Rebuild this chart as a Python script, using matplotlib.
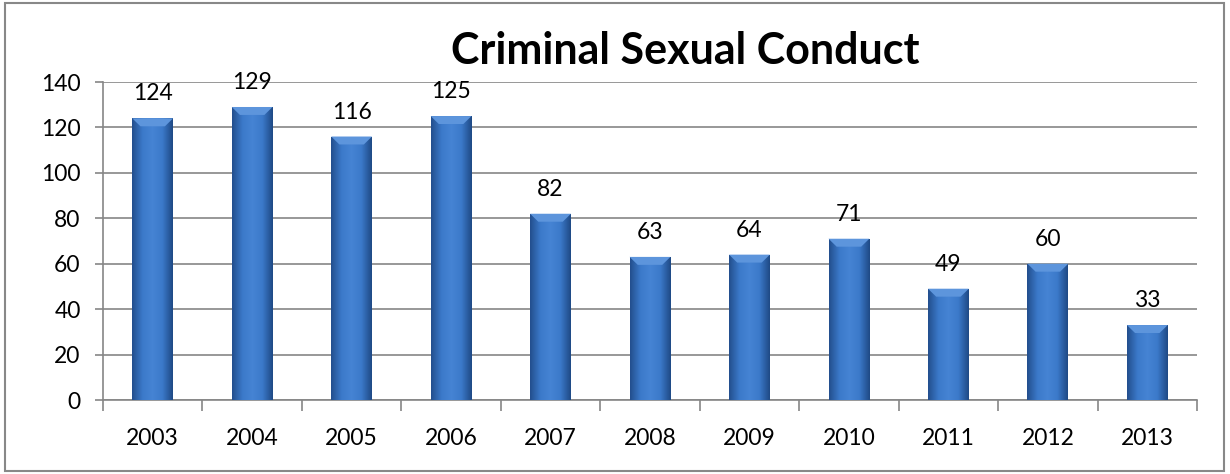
import matplotlib.pyplot as plt
import numpy as np
from matplotlib.colors import LinearSegmentedColormap
from matplotlib.patches import Rectangle, Polygon

years = ['2003', '2004', '2005', '2006', '2007', '2008',
         '2009', '2010', '2011', '2012', '2013']
counts = [124, 129, 116, 125, 82, 63, 64, 71, 49, 60, 33]
y_ticks = [0, 20, 40, 60, 80, 100, 120, 140]

plt.rcParams['font.family'] = ['Lato', 'DejaVu Sans']

fig = plt.figure(figsize=(12.3, 4.74), dpi=100)
ax = fig.add_axes([0.0837, 0.1561, 0.8895, 0.6709])

x = np.arange(len(years))
bars = ax.bar(x, counts, width=0.41, color='#3a74c4', zorder=2)

# horizontal shading so the bars look rounded, like the Excel original
shade = LinearSegmentedColormap.from_list(
    'shade', ['#234f8e', '#3b79c9', '#4684d4', '#3b79c9', '#1f4a86'])
grad = np.linspace(0, 1, 64).reshape(1, -1)
for b in bars:
    x0, w, h = b.get_x(), b.get_width(), b.get_height()
    im = ax.imshow(grad, cmap=shade, aspect='auto', zorder=3,
                   extent=(x0, x0 + w, 0, h))
    im.set_clip_path(b)
    # lighter bevel on top
    bev = Polygon([(x0, h), (x0 + w, h), (x0 + w * 0.8, h - 3.5), (x0 + w * 0.2, h - 3.5)],
                  closed=True, color='#5d95dc', zorder=4, lw=0)
    ax.add_patch(bev)
    ax.annotate(str(int(h)), (x0 + w / 2, h), xytext=(0, 10),
                textcoords='offset points', ha='center', va='bottom',
                fontsize=16.5)

ax.set_xlim(-0.5, len(years) - 0.5)
ax.set_ylim(0, 140)
ax.set_yticks(y_ticks)
ax.set_yticklabels([str(v) for v in y_ticks], fontsize=16.5)
ax.set_xticks(x)
ax.set_xticklabels(years, fontsize=16.5)
ax.tick_params(axis='x', length=0, pad=20)
ax.set_xticks(np.arange(len(years) + 1) - 0.5, minor=True)
ax.tick_params(axis='x', which='minor', length=8, width=1.2, color='#868686')
ax.tick_params(axis='y', length=6, width=1.2, color='#868686', pad=10)
ax.grid(axis='y', color='#868686', lw=1.2, zorder=0)
for s in ['top', 'right']:
    ax.spines[s].set_visible(False)
for s in ['left', 'bottom']:
    ax.spines[s].set_color('#868686')
    ax.spines[s].set_linewidth(1.2)

fig.text(0.557, 0.893, 'Criminal Sexual Conduct', ha='center', va='center',
         fontsize=31, fontweight='bold')

fig.patches.append(Rectangle((0.004, 0.006), 0.991, 0.988, transform=fig.transFigure,
                             fill=False, edgecolor='#888888', lw=1.5))

fig.savefig('out.png', dpi=100)
